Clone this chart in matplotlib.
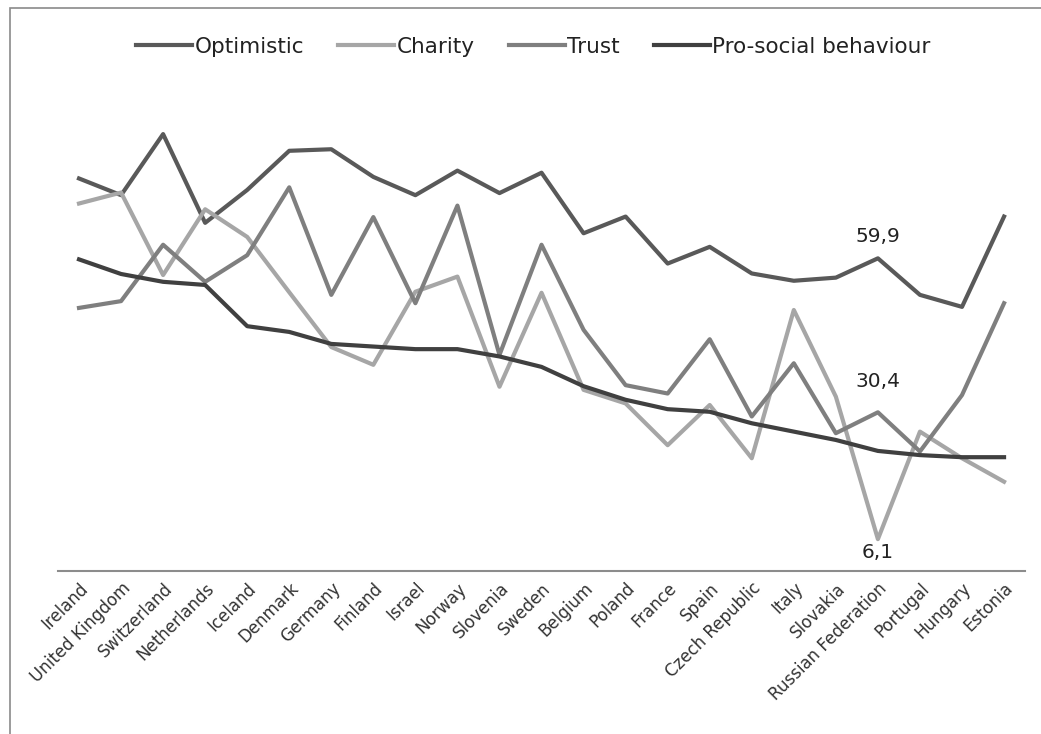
import matplotlib
matplotlib.use('Agg')
import matplotlib.pyplot as plt
from matplotlib.patches import Rectangle

# data
countries = ['Ireland', 'United Kingdom', 'Switzerland', 'Netherlands', 'Iceland',
             'Denmark', 'Germany', 'Finland', 'Israel', 'Norway', 'Slovenia',
             'Sweden', 'Belgium', 'Poland', 'France', 'Spain', 'Czech Republic',
             'Italy', 'Slovakia', 'Russian Federation', 'Portugal', 'Hungary',
             'Estonia']
optimistic = [75.2, 72.0, 83.7, 66.7, 73.0, 80.5, 80.8, 75.5, 72.0, 76.7, 72.4,
              76.3, 64.7, 67.9, 58.9, 62.1, 57.0, 55.6, 56.2, 59.9, 52.9, 50.6,
              67.9]
charity = [70.4, 72.5, 56.7, 69.3, 64.0, 53.4, 42.9, 39.5, 53.5, 56.4, 35.3,
           53.3, 34.7, 32.1, 24.1, 31.8, 21.6, 50.0, 33.4, 6.1, 26.7, 21.6,
           17.1]
trust = [50.4, 51.7, 62.5, 55.4, 60.5, 73.5, 52.9, 67.8, 51.3, 70.0, 41.4,
         62.5, 46.2, 35.6, 34.0, 44.4, 29.6, 39.8, 26.4, 30.4, 22.9, 33.7,
         51.3]
prosocial = [59.7, 56.9, 55.4, 54.8, 46.9, 45.8, 43.5, 43.0, 42.5, 42.5, 41.1,
             39.1, 35.4, 32.8, 31.0, 30.5, 28.3, 26.7, 25.1, 23.0, 22.2, 21.8,
             21.8]

fig = plt.figure(figsize=(10.41, 7.34), dpi=100)
ax = fig.add_axes([0.0557, 0.2221, 0.929, 0.64])

x = range(len(countries))
ax.plot(x, optimistic, color='#595959', lw=3, label='Optimistic')
ax.plot(x, charity, color='#a6a6a6', lw=3, label='Charity')
ax.plot(x, trust, color='#7f7f7f', lw=3, label='Trust')
ax.plot(x, prosocial, color='#404040', lw=3, label='Pro-social behaviour')

# data labels at Russian Federation
i = countries.index('Russian Federation')
for vals, dy, va in [(optimistic, 9, 'bottom'), (trust, 15, 'bottom'), (charity, -3, 'top')]:
    ax.annotate(f'{vals[i]:.1f}'.replace('.', ','), (i, vals[i]),
                xytext=(0, dy), textcoords='offset points',
                ha='center', va=va, fontsize=14.5, color='#222222')

ax.set_xlim(-0.5, len(countries) - 0.5)
ax.set_ylim(0, 90)
ax.set_xticks(list(x))
ax.set_xticklabels(countries, rotation=45, ha='right', rotation_mode='anchor',
                   fontsize=12, color='#333333')
ax.tick_params(axis='x', length=0, pad=6)
ax.set_yticks([])
for s in ['top', 'right', 'left']:
    ax.spines[s].set_visible(False)
ax.spines['bottom'].set_color('#8c8c8c')
ax.spines['bottom'].set_linewidth(1.5)

fig.legend(loc='center', bbox_to_anchor=(0.5125, 0.936), ncol=4, frameon=False,
           fontsize=15.5, handlelength=2.6, handletextpad=0.1,
           columnspacing=1.6, labelcolor='#222222')

# outer frame (cut off at right and bottom like the reference)
fig.patches.append(Rectangle((10 / 1041, -0.05), 1.1, 1 - 8 / 734 + 0.05,
                             transform=fig.transFigure, fill=False,
                             edgecolor='#8a8a8a', lw=1.2))

fig.savefig('out.png', dpi=100)
